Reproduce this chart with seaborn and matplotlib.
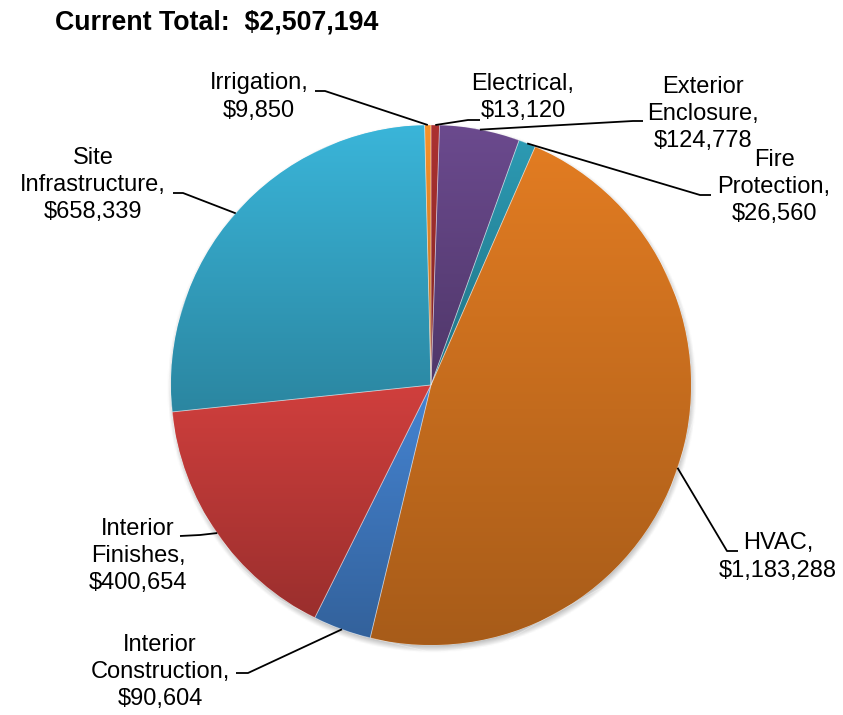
import numpy as np
import matplotlib
matplotlib.use("Agg")
import matplotlib.pyplot as plt
from matplotlib.colors import to_rgb
import seaborn as sns

# --- data -----------------------------------------------------------------
categories = [
    "Electrical", "Exterior Enclosure", "Fire Protection", "HVAC",
    "Interior Construction", "Interior Finishes", "Site Infrastructure",
    "Irrigation",
]
costs = [13120, 124778, 26560, 1183288, 90604, 400654, 658339, 9850]
label_lines = [
    ["Electrical,"],
    ["Exterior", "Enclosure,"],
    ["Fire", "Protection,"],
    ["HVAC,"],
    ["Interior", "Construction,"],
    ["Interior", "Finishes,"],
    ["Site", "Infrastructure,"],
    ["Irrigation,"],
]
base_colors = ["#AC3130", "#6B4A8E", "#2C9AB3", "#E27C22",
               "#4584D2", "#D03F3D", "#3AB5D9", "#F7932B"]
title_text = "Current Total:  $2,507,194"

# --- style ----------------------------------------------------------------
sns.set_theme(style="white")
plt.rcParams["font.family"] = ["Liberation Sans", "DejaVu Sans"]
palette = sns.color_palette(base_colors)

W, H = 843, 715
fig = plt.figure(figsize=(W / 100, H / 100), dpi=100)
ax = fig.add_axes([0, 0, 1, 1])
ax.set_xlim(0, W)
ax.set_ylim(0, H)
ax.axis("off")


def P(x, y):
    """Layout position given in top-left based canvas units."""
    return x, H - y


cx, cy = P(431, 385)
R = 260

# soft drop shadow under the pie
gx = np.linspace(cx - R - 20, cx + R + 20, 400)
gy = np.linspace(cy - R - 20, cy + R + 20, 400)
XX, YY = np.meshgrid(gx, gy)
dist = np.hypot(XX - (cx + 1), YY - (cy - 3))
shadow_alpha = 0.45 * np.clip((R + 5 - dist) / 8.0, 0, 1)
shadow = np.zeros(XX.shape + (4,))
shadow[..., :3] = 0.35
shadow[..., 3] = shadow_alpha
ax.imshow(shadow, extent=[gx[0], gx[-1], gy[0], gy[-1]], origin="lower",
          zorder=0.5, interpolation="bilinear")

wedges, _ = ax.pie(
    costs, colors=palette, startangle=90, counterclock=False,
    radius=R, center=(cx, cy), frame=True,
    wedgeprops=dict(linewidth=0.6, edgecolor=(1, 1, 1, 0.45)),
)
ax.set_xlim(0, W)
ax.set_ylim(0, H)
ax.set_aspect("auto")
ax.axis("off")

# vertical light-to-dark gradient inside each slice
for w, col in zip(wedges, palette):
    w.set_zorder(1)
    top = np.array(to_rgb(col))
    bot = top * 0.74
    ext = w.get_path().get_extents()
    y0, y1 = ext.y0, ext.y1
    t = np.linspace(0, 1, 256)[:, None]
    grad = bot[None, None, :] * (1 - t[..., None]) + top[None, None, :] * t[..., None]
    grad = np.repeat(grad, 2, axis=1)
    im = ax.imshow(grad, extent=[ext.x0, ext.x1, y0, y1], origin="lower",
                   aspect="auto", zorder=1.5, interpolation="bilinear")
    im.set_clip_path(w)
    edge = plt.Polygon(w.get_path().vertices, closed=True, fill=False,
                       edgecolor=(1, 1, 1, 0.35), linewidth=0.6, zorder=1.6)
    ax.add_patch(edge)

ax.set_xlim(0, W)
ax.set_ylim(0, H)

# label layout: text centre, leader elbow, leader end
label_pos = [
    (523, 97.5), (703, 114), (774, 187), (778, 557),
    (160, 672), (138, 556), (93, 185), (259, 97),
]
elbows = [
    ((468, 120), (480, 120)),
    ((633, 121), (643, 121)),
    ((700, 195), (711, 195)),
    ((727, 551), (738, 551)),
    ((248, 673), (236, 673)),
    ((200, 535), (180, 536)),
    ((183, 193), (173, 193)),
    ((325, 91), (315, 91)),
]

for w, lines, cost, pos, (elb, end) in zip(wedges, label_lines, costs,
                                           label_pos, elbows):
    mid = np.deg2rad((w.theta1 + w.theta2) / 2)
    ex, ey = cx + R * np.cos(mid), cy + R * np.sin(mid)
    ax.plot([ex, P(*elb)[0], P(*end)[0]], [ey, P(*elb)[1], P(*end)[1]],
            color="black", lw=1.3, zorder=3, solid_capstyle="butt")
    text = "\n".join(lines + [f"${cost:,.0f}"])
    ax.text(*P(*pos), text, ha="center", va="center", multialignment="center",
            fontsize=17, linespacing=1.32, color="black", zorder=4)

ax.text(*P(55, 23), title_text, ha="left", va="center", fontsize=19.3,
        fontweight="bold", color="black")

fig.savefig("out.png", dpi=100)
